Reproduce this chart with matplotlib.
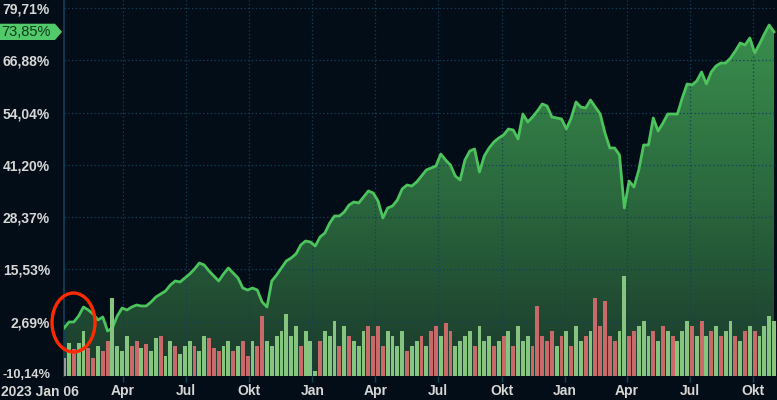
import matplotlib
matplotlib.use("Agg")
import matplotlib.pyplot as plt
import matplotlib.dates as mdates
import matplotlib.transforms as mtransforms
from matplotlib.patches import Polygon, Ellipse
from matplotlib.colors import LinearSegmentedColormap
import numpy as np
import pandas as pd

# weekly performance in % (Fridays, from 2023-01-06)
start_date = "2023-01-06"
perf = [1.15, 2.62, 2.62, 4.09, 6.30, 5.56, 4.58, 3.11, 3.85, 0.41,
        1.15, 4.09, 6.05, 5.56, 6.30, 6.79, 6.55, 6.55, 7.53, 8.76,
        9.49, 10.23, 11.70, 12.69, 12.44, 13.42, 14.40, 15.63, 17.10, 16.61,
        15.14, 13.91, 12.69, 14.40, 15.87, 14.65, 13.42, 10.96, 10.47, 10.96,
        10.47, 7.53, 6.30, 12.69, 14.16, 15.87, 17.59, 18.33, 19.31, 21.52,
        22.50, 22.26, 21.28, 23.49, 24.47, 26.92, 28.64, 28.64, 29.62, 31.34,
        32.08, 31.83, 33.31, 34.78, 34.29, 32.32, 28.15, 30.61, 31.10, 32.57,
        35.27, 36.25, 36.01, 36.99, 38.46, 39.94, 40.43, 40.92, 43.86, 42.39,
        41.16, 38.46, 37.48, 42.39, 44.60, 45.09, 39.45, 43.37, 45.34, 46.81,
        47.79, 48.53, 50.00, 49.76, 47.55, 53.68, 51.72, 52.95, 54.42, 56.14,
        55.65, 52.95, 52.70, 52.46, 50.00, 52.70, 56.63, 55.40, 55.16, 57.12,
        55.40, 53.68, 49.02, 45.34, 45.34, 43.62, 30.61, 37.23, 35.76, 39.94,
        46.07, 46.07, 52.70, 49.51, 51.47, 53.68, 53.68, 53.68, 57.61, 61.05,
        60.80, 61.79, 63.99, 61.05, 63.99, 65.47, 66.20, 66.20, 67.43, 69.15,
        71.11, 70.62, 72.34, 68.66, 70.87, 73.32, 75.53, 73.85]

# weekly volume bars (arbitrary units) and their colour flag
volume = [18, 33, 27, 33, 45, 28, 18, 30, 25, 35, 78, 30, 25,
          40, 30, 35, 28, 32, 25, 38, 40, 20, 35, 30, 22, 30,
          35, 30, 25, 40, 38, 28, 25, 30, 35, 25, 30, 35, 20,
          35, 30, 60, 35, 30, 40, 45, 62, 40, 50, 30, 45, 35,
          5, 35, 45, 40, 55, 30, 50, 40, 35, 30, 45, 50, 40,
          50, 30, 45, 40, 30, 45, 25, 30, 35, 40, 30, 45, 50,
          40, 53, 45, 30, 35, 40, 45, 30, 50, 35, 40, 30, 35,
          40, 45, 30, 50, 35, 40, 30, 70, 40, 35, 45, 30, 40,
          45, 30, 50, 35, 40, 45, 78, 50, 75, 40, 35, 45, 100,
          40, 45, 50, 55, 40, 45, 35, 50, 45, 40, 35, 45, 55,
          50, 40, 55, 40, 45, 50, 40, 45, 55, 40, 35, 45, 50,
          45, 40, 50, 60, 55]
vol_dir = list("ngrggrrgrrggg"
               "grrgrggrggrgg"
               "grggrrrggrgrr"
               "grrgggggggrgg"
               "grgggrgrgggrr"
               "rrggggrggrgrr"
               "grrggggrgggrg"
               "rgrgggrrrrrgr"
               "grggrgrrrrrgg"
               "rrgggrgrgrggg"
               "rgrgrgrggrgrg"
               "rgggg")

ytick_vals = [-10.14, 2.69, 15.53, 28.37, 41.20, 54.04, 66.88, 79.71]
ytick_text = ["-10,14%", "2,69%", "15,53%", "28,37%", "41,20%", "54,04%", "66,88%", "79,71%"]
month_ticks = ["2023-04-01", "2023-07-01", "2023-10-01", "2024-01-01", "2024-04-01",
               "2024-07-01", "2024-10-01", "2025-01-01", "2025-04-01", "2025-07-01",
               "2025-10-01"]
month_names = ["Apr", "Jul", "Okt", "Jan", "Apr", "Jul", "Okt", "Jan", "Apr", "Jul", "Okt"]
last_label = "73,85%"
first_label = "2023 Jan 06"

bg = "#020d17"
grid_col = "#12415a"
txt_col = "#d6d6d6"
line_col = "#4cc35c"
bar_green = "#86c57f"
bar_red = "#c86a6a"
bar_grey = "#9a9a9a"

dates = pd.date_range(start_date, periods=len(perf), freq="W-FRI")
xn = mdates.date2num(dates)
perf = np.array(perf)

fig = plt.figure(figsize=(7.77, 4.0), dpi=100, facecolor=bg)
ax = fig.add_axes([64 / 777, 24 / 400, 1 - 64 / 777, 376 / 400])
ax.set_facecolor(bg)

ymin, ymax = -10.64, 81.67
xmin = xn[0] - 0.2
xmax = xn[0] + (777 - 64) / 4.83 * 7
ax.set_xlim(xmin, xmax)
ax.set_ylim(ymin, ymax)

# gradient area under the line
cmap = LinearSegmentedColormap.from_list("g", ["#1b3a2c", "#2b6a3e", "#3c9450"])
grad = np.linspace(0, 1, 256).reshape(-1, 1)
verts = np.vstack([[xn[0], ymin], np.column_stack([xn, perf]), [xn[-1], ymin]])
poly = Polygon(verts, closed=True, facecolor="none", edgecolor="none")
ax.add_patch(poly)
im = ax.imshow(grad, extent=[xmin, xmax, ymin, ymax], origin="lower", aspect="auto",
               cmap=cmap, zorder=1)
im.set_clip_path(poly)
ax.plot(xn, perf, color=line_col, lw=2.0, zorder=3)

# volume bars
ax2 = ax.twinx()
ax2.set_ylim(0, 376)
ax2.set_xlim(xmin, xmax)
cols = [bar_green if c == "g" else bar_red if c == "r" else bar_grey for c in vol_dir]
ax2.bar(xn, volume, width=5.6, color=cols, zorder=4)
ax2.axis("off")
ax.set_zorder(1)
ax2.set_zorder(2)
ax2.patch.set_visible(False)

# grid and axes
ax.set_yticks(ytick_vals)
ax.set_yticklabels(ytick_text)
ax.set_xticks(mdates.date2num(pd.to_datetime(month_ticks)))
ax.set_xticklabels(month_names)
ax.grid(True, color=grid_col, lw=0.9, ls=(0, (1, 2)))
ax.tick_params(axis="y", length=0, pad=10, labelsize=10, labelcolor=txt_col)
ax.tick_params(axis="x", length=4.5, width=1, color=grid_col, pad=1, labelsize=10,
               labelcolor=txt_col)
for lab in ax.get_xticklabels() + ax.get_yticklabels():
    lab.set_fontweight("bold")
    lab.set_fontfamily("Liberation Sans")
ax.get_yticklabels()[0].set_fontsize(9.3)
for s in ["top", "right", "bottom"]:
    ax.spines[s].set_visible(False)
ax.spines["left"].set_color(grid_col)
ax.spines["left"].set_linewidth(1.2)

fig.text(1 / 777, 8 / 400, first_label, ha="left", va="center", color=txt_col,
         fontsize=10, fontweight="bold", family="Liberation Sans")

# last value tag
tr = mtransforms.blended_transform_factory(fig.transFigure, ax.transData)
h = 2.0
tag = Polygon([[0, perf[-1] - h], [55 / 777, perf[-1] - h], [62 / 777, perf[-1]],
               [55 / 777, perf[-1] + h], [0, perf[-1] + h]], closed=True,
              transform=tr, facecolor="#52c96a", edgecolor="none", clip_on=False, zorder=5)
fig.patches.append(tag)
fig.text(26 / 777, perf[-1], last_label, transform=tr, ha="center", va="center",
         color="#0e3b1c", fontsize=10.5, family="Liberation Sans", zorder=10)

# red highlight circle around the start of the series
ring = Ellipse((73.5 / 777, 1 - 322.5 / 400), 43 / 777, 59 / 400, transform=fig.transFigure,
               facecolor="none", edgecolor="#ff2a00", lw=2.4, zorder=20)
fig.patches.append(ring)

fig.savefig("out.png", dpi=100, facecolor=bg)
